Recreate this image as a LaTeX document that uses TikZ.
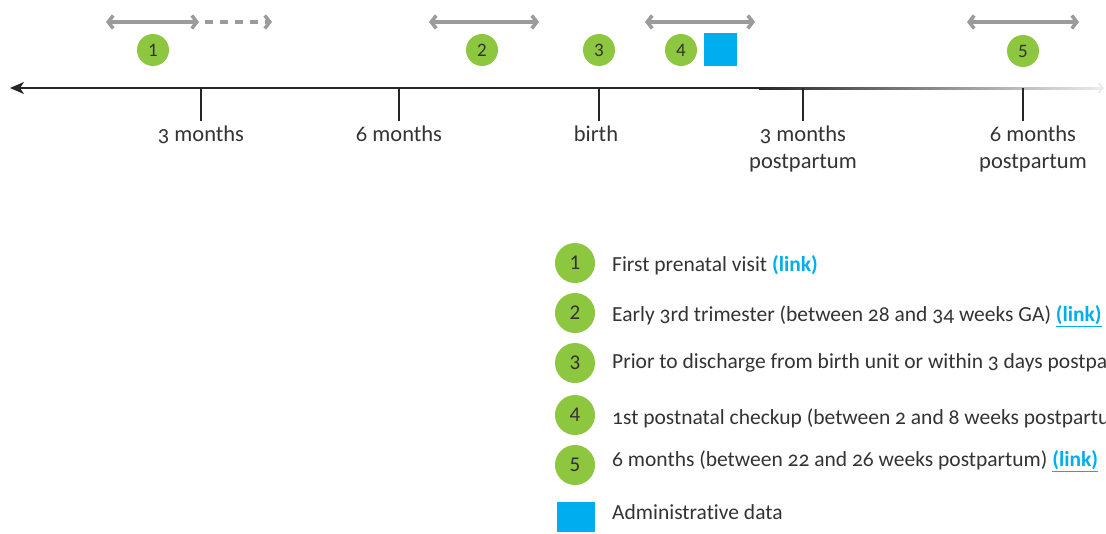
\documentclass[tikz,border=0pt]{standalone}
\usepackage{fontspec}
\setmainfont{Carlito}[Numbers=OldStyle,Ligatures=NoCommon]
\newfontfamily\numfont{Carlito}[Numbers=Lining]
\usetikzlibrary{arrows.meta}
\definecolor{vgreen}{HTML}{8DC63F}
\definecolor{vblue}{HTML}{00AEEF}
\definecolor{vgray}{HTML}{9B9B9D}
\definecolor{vtext}{HTML}{333333}
\begin{document}
\begin{tikzpicture}[x=1pt,y=-1pt,
  every node/.style={text=vtext,font=\fontsize{21.5}{24}\selectfont},
  dot/.style={circle,fill=vgreen,minimum size=32pt,inner sep=0pt,font=\numfont\fontsize{19}{22}\selectfont},
  bigdot/.style={circle,fill=vgreen,minimum size=40pt,inner sep=0pt,font=\numfont\fontsize{21}{24}\selectfont},
  bsq/.style={fill=vblue,minimum size=33pt,inner sep=0pt},
  span/.style={draw=vgray,line width=3.5pt,{Straight Barb[length=5pt,width=13pt]}-{Straight Barb[length=5pt,width=13pt]}},
  tickline/.style={draw=black!85,line width=1.8pt},
  ticklab/.style={anchor=north,align=center,inner sep=0pt,font=\fontsize{22.5}{27}\selectfont},
  legtxt/.style={anchor=west,inner sep=0pt},
]
\useasboundingbox (0,0) rectangle (1106,533);
\clip (0,0) rectangle (1106,533);
% axis
\coordinate (axL) at (10,88);
\coordinate (axM) at (760,88);
\coordinate (axR) at (1104,88);
\shade[left color=black!85,right color=black!8] (759,87) rectangle (1100,89);
\draw[draw=black!8,line width=2pt,-{Straight Barb[length=4pt,width=10pt]}] (1095,88) -- (axR);
\draw[draw=black!85,line width=2pt,-{Stealth[length=14pt,width=12pt,inset=4pt]}] (axM) -- (axL);
% ticks
\foreach \n/\x in {a/201,b/399,c/599,d/803,e/1023}{
  \coordinate (t\n top) at (\x,88);
  \coordinate (t\n bot) at (\x,121);
  \draw[tickline] (t\n top) -- (t\n bot);
}
\node[ticklab] (l1) at (201,126) {3 months};
\node[ticklab] (l2) at (399,126) {6 months};
\node[ticklab] (l3) at (596,126) {birth};
\node[ticklab] (l4) at (803,126) {3 months\\postpartum};
\node[ticklab] (l5) at (1033,126) {6 months\\postpartum};
% spans
\coordinate (s1a) at (106,22); \coordinate (s1b) at (199,22); \coordinate (s1c) at (272,22);
\draw[span] (s1a) -- (s1b);
\draw[draw=vgray,line width=3.5pt,dash pattern=on 8pt off 7pt,-{Straight Barb[length=5pt,width=13pt]}] (205,22) -- (s1c);
\coordinate (s2a) at (429,22); \coordinate (s2b) at (539,22);
\draw[span] (s2a) -- (s2b);
\coordinate (s4a) at (645,22); \coordinate (s4b) at (755,22);
\draw[span] (s4a) -- (s4b);
\coordinate (s5a) at (967,22); \coordinate (s5b) at (1079,22);
\draw[span] (s5a) -- (s5b);
% dots
\node[dot] (d1) at (153,50) {1};
\node[dot] (d2) at (482,50) {2};
\node[dot] (d3) at (599,50) {3};
\node[dot] (d4) at (681,50) {4};
\node[dot] (d5) at (1023,51) {5};
\node[bsq] (sq) at (720.5,49.5) {};
% legend
\node[bigdot] (g1) at (575,263) {1};
\node[bigdot] (g2) at (575,313) {2};
\node[bigdot] (g3) at (575,363) {3};
\node[bigdot] (g4) at (575,415) {4};
\node[bigdot] (g5) at (575,465) {5};
\node[fill=vblue,minimum width=38pt,minimum height=30pt,inner sep=0pt] (gq) at (576,517) {};
\node[legtxt] (x1) at (612,265) {First prenatal visit {\color{vblue}\bfseries(link)}};
\node[legtxt] (x2) at (612,316) {Early 3rd trimester (between 28 and 34 weeks GA) {\color{vblue}\bfseries\underline{(link)}}};
\node[legtxt] (x3) at (612,363) {Prior to discharge from birth unit or within 3 days postpartum};
\node[legtxt] (x4) at (612,418) {1st postnatal checkup (between 2 and 8 weeks postpartum)};
\node[legtxt] (x5) at (612,461) {6 months (between 22 and 26 weeks postpartum) {\color{vblue}\bfseries\underline{(link)}}};
\node[legtxt] (x6) at (612,512) {Administrative data};
\end{tikzpicture}
\end{document}
